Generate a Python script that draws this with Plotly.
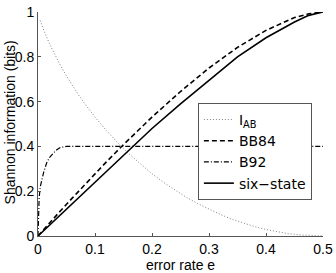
import plotly.graph_objects as go

# error rate grids and Shannon information values
e_iab = [0.004, 0.01, 0.02, 0.03, 0.04, 0.05, 0.06, 0.07, 0.08, 0.09, 0.10, 0.12, 0.14, 0.16,
         0.18, 0.20, 0.22, 0.24, 0.26, 0.28, 0.30, 0.32, 0.34, 0.36, 0.38, 0.40, 0.42, 0.44,
         0.46, 0.48, 0.50]
iab = [0.962, 0.919, 0.859, 0.806, 0.758, 0.714, 0.673, 0.634, 0.598, 0.564, 0.531, 0.471, 0.416,
       0.366, 0.320, 0.278, 0.240, 0.205, 0.173, 0.145, 0.119, 0.096, 0.075, 0.057, 0.042, 0.029,
       0.019, 0.010, 0.005, 0.001, 0.0]

e_bb84 = [0, 0.01, 0.02, 0.04, 0.06, 0.08, 0.10, 0.12, 0.15, 0.20, 0.25, 0.30, 0.35, 0.40, 0.45,
          0.475, 0.50]
bb84 = [0, 0.029, 0.057, 0.114, 0.169, 0.224, 0.278, 0.331, 0.408, 0.531, 0.645, 0.750, 0.842,
        0.918, 0.975, 0.992, 1.0]

e_b92 = [0, 0.0005, 0.001, 0.002, 0.004, 0.0065, 0.01, 0.015, 0.02, 0.027, 0.033, 0.039, 0.045,
         0.05, 0.06, 0.50]
b92 = [0, 0.08, 0.12, 0.17, 0.22, 0.25, 0.285, 0.325, 0.35, 0.37, 0.385, 0.395, 0.399, 0.4, 0.4,
       0.4]

e_six = [0, 0.02, 0.05, 0.08, 0.10, 0.12, 0.15, 0.20, 0.25, 0.30, 0.35, 0.40, 0.45, 0.475, 0.50]
six = [0, 0.048, 0.12, 0.192, 0.24, 0.288, 0.36, 0.48, 0.59, 0.695, 0.80, 0.885, 0.955, 0.985, 1.0]

x_ticks = [0, 0.1, 0.2, 0.3, 0.4, 0.5]
x_tick_labels = ["0", "0.1", "0.2", "0.3", "0.4", "0.5"]
y_ticks = [0, 0.2, 0.4, 0.6, 0.8, 1]
y_tick_labels = ["0", "0.2", "0.4", "0.6", "0.8", "1"]

FONT = "Liberation Sans, Arial, Helvetica, sans-serif"

fig = go.Figure()
fig.add_trace(go.Scatter(x=e_iab, y=iab, mode="lines", name="I<sub>AB</sub>",
                         line=dict(color="#808080", width=1, dash="1px,2px")))
fig.add_trace(go.Scatter(x=e_bb84, y=bb84, mode="lines", name="BB84",
                         line=dict(color="black", width=1.6, dash="5px,3px")))
fig.add_trace(go.Scatter(x=e_b92, y=b92, mode="lines", name="B92",
                         line=dict(color="black", width=1.2, dash="5px,2px,1px,2px")))
fig.add_trace(go.Scatter(x=e_six, y=six, mode="lines", name="six\u2212state",
                         line=dict(color="black", width=1.6)))

fig.update_layout(
    template="none",
    width=336, height=273,
    margin=dict(l=38, r=13, t=12, b=37, autoexpand=False),
    paper_bgcolor="white", plot_bgcolor="white",
    font=dict(family=FONT, size=14, color="black"),
    showlegend=True,
    legend=dict(x=0.561, y=0.594, xanchor="left", yanchor="top",
                bgcolor="white", bordercolor="#555555", borderwidth=1,
                font=dict(family="DejaVu Sans, sans-serif", size=14),
                itemwidth=30, tracegroupgap=0),
    xaxis=dict(range=[0, 0.5], tickvals=x_ticks, ticktext=x_tick_labels,
               automargin=False,
               showgrid=False, zeroline=False, showline=True, linecolor="#555555",
               linewidth=1, ticks="inside", ticklen=3, tickcolor="#555555",
               tickfont=dict(size=14),
               title=dict(text="error rate e", font=dict(size=14), standoff=1)),
    yaxis=dict(range=[0, 1], tickvals=y_ticks, ticktext=y_tick_labels,
               automargin=False,
               showgrid=False, zeroline=False, showline=True, linecolor="#555555",
               linewidth=1, ticks="inside", ticklen=3, tickcolor="#555555",
               tickfont=dict(size=14)),
    annotations=[dict(text="Shannon information (bits)", textangle=-90,
                      xref="paper", yref="paper", x=0, y=0.507, xshift=-28,
                      xanchor="center", yanchor="middle", showarrow=False,
                      font=dict(size=14))],
)

fig.write_html("out.html", config={"displayModeBar": False},
               post_script="document.body.style.margin='0px';")
